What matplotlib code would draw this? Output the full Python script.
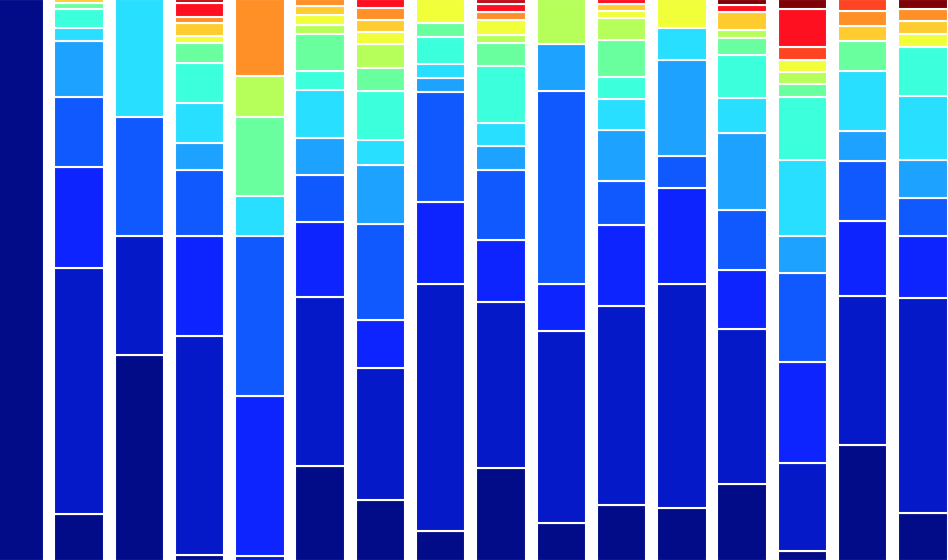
import numpy as np
import matplotlib
matplotlib.use("Agg")
import matplotlib.pyplot as plt

# one entry per bar (16 bars), one list per stacked category (bottom -> top)
bars = list(range(16))

cat00 = [560, 47, 205, 6, 0, 94.5, 61, 30, 93, 38, 56, 53, 77, 10, 115, 48]
cat01 = [0, 245, 119, 218, 5, 168.5, 131, 246, 165, 191, 198, 223, 154, 88, 149, 214]
cat02 = [0, 101, 0, 100, 159.5, 75, 48, 82, 62, 47, 81, 96, 59, 100, 75, 62]
cat03 = [0, 69, 119, 66, 159, 47, 96, 109, 70, 192, 44, 32, 60, 89, 60, 38]
cat04 = [0, 56, 0, 27, 0, 37, 59, 14, 24, 47, 51, 95, 77, 37, 30, 38]
cat05 = [0, 13, 117, 40, 40, 47, 25, 14, 23, 0, 30, 32, 34, 76, 59, 63]
cat06 = [0, 19, 0, 39, 0, 19, 48, 27, 56, 0, 22, 0, 43, 62, 0, 49.5]
cat07 = [0, 6, 0, 20.5, 79.5, 37, 23, 14, 23, 0, 37, 0, 17, 13, 30, 0]
cat08 = [0, 0, 0, 0, 40, 9, 24, 0, 8, 45, 22, 0, 8, 12.5, 0, 0]
cat09 = [0, 0, 0, 6.5, 0, 10, 12, 24, 15, 0, 7.5, 29, 0, 12, 0, 12.5]
cat10 = [0, 4, 0, 13, 0, 9.5, 12, 0, 0, 0, 6.5, 0, 18, 0, 15, 13]
cat11 = [0, 0, 0, 6.7, 77, 6.5, 12, 0, 8, 0, 0, 0, 0, 0, 15, 12]
cat12 = [0, 0, 0, 0, 0, 0, 0, 0, 0, 0, 0, 0, 0, 13, 12, 0]
cat13 = [0, 0, 0, 13.6, 0, 0, 9, 0, 8, 0, 5, 0, 7, 38, 0, 0]
cat14 = [0, 0, 0, 3.7, 0, 0, 0, 0, 5, 0, 0, 0, 0, 0, 0, 0]
cat15 = [0, 0, 0, 0, 0, 0, 0, 0, 0, 0, 0, 0, 6, 9.5, 0, 10]

colors = ['#020C88', '#0619C8', '#0E24FF', '#1059FF', '#1EA2FF', '#28DFFF',
          '#3CFFDC', '#6AFF9E', '#B6FF5A', '#F0FF3A', '#FFCC30', '#FF9028',
          '#FF4422', '#FF1020', '#C00E18', '#800008']

series = np.array([cat00, cat01, cat02, cat03, cat04, cat05, cat06, cat07,
                   cat08, cat09, cat10, cat11, cat12, cat13, cat14, cat15], dtype=float)
shares = series / series.sum(axis=0)

fig = plt.figure(figsize=(9.48, 5.6), dpi=100)
ax = fig.add_axes([0, 0, 1, 1])

bottom = np.zeros(len(bars))
for vals, col in zip(shares, colors):
    mask = vals > 0
    ax.bar(np.array(bars)[mask], vals[mask], width=0.82, bottom=bottom[mask],
           color=col, edgecolor='white', linewidth=1.5)
    bottom += vals

# trim the outer white edge at the very top/bottom like the reference crop
ax.set_xlim(-0.312, 15.415)
ax.set_ylim(0.0014, 0.9986)
ax.axis('off')

fig.savefig('out.png', dpi=100)
